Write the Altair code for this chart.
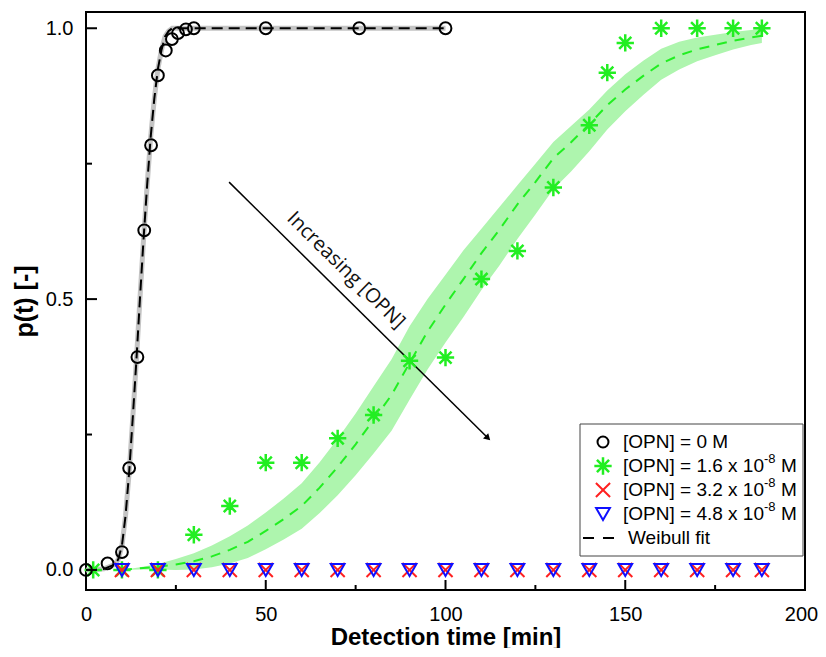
import altair as alt
import pandas as pd

# ---------------- data ----------------
# [OPN] = 0 M (black open circles)
black_t = [0, 6, 10, 12, 14.3, 16.2, 18.1, 20, 22.2, 23.9, 25.6, 27.8, 30, 50, 76, 100]
black_p = [0, 0.012, 0.033, 0.188, 0.393, 0.627, 0.784, 0.913, 0.959, 0.98, 0.991, 0.998, 1.0, 1.0, 1.0, 1.0]

# [OPN] = 1.6e-8 M (green asterisks)
green_t = [2, 10, 20, 30, 40, 50, 60, 70, 80, 90, 100, 110, 120, 130, 140, 145, 150, 160, 170, 180, 188]
green_p = [0, 0, 0, 0.065, 0.118, 0.198, 0.198, 0.243, 0.286, 0.386, 0.392, 0.537, 0.589, 0.706, 0.821,
           0.918, 0.973, 1.0, 1.0, 1.0, 1.0]

# [OPN] = 3.2e-8 M (red x) and 4.8e-8 M (blue triangles)
red_t = [10, 20, 30, 40, 50, 60, 70, 80, 90, 100, 110, 120, 130, 140, 150, 160, 170, 180, 188]
red_p = [0] * 19
blue_t = [10, 20, 30, 40, 50, 60, 70, 80, 90, 100, 110, 120, 130, 140, 150, 160, 170, 180, 188]
blue_p = [0] * 19

# Weibull fit, [OPN] = 0 M
bfit_t = [0, 5, 8, 9, 10, 11, 12, 13, 14, 15, 16, 17, 18, 19, 20, 21, 22, 23, 24, 26, 30, 50, 75, 100]
bfit_p = [0, 0.002, 0.01, 0.02, 0.045, 0.1, 0.18, 0.28, 0.385, 0.5, 0.61, 0.71, 0.8, 0.87, 0.925,
          0.96, 0.985, 0.995, 1.0, 1.0, 1.0, 1.0, 1.0, 1.0]

# Weibull fit, [OPN] = 1.6e-8 M, with its confidence band
gfit_t = [10, 15, 20, 25, 30, 35, 40, 45, 50, 55, 60, 65, 70, 75, 80, 85, 90, 95, 100, 105, 110,
          115, 120, 125, 130, 135, 140, 145, 150, 155, 160, 165, 170, 175, 180, 185, 188]
gfit_p = [0, 0.003, 0.006, 0.01, 0.016, 0.025, 0.037, 0.052, 0.072, 0.094, 0.118, 0.152, 0.19,
          0.232, 0.277, 0.323, 0.382, 0.44, 0.49, 0.537, 0.585, 0.628, 0.675, 0.716, 0.76, 0.79,
          0.823, 0.858, 0.887, 0.912, 0.935, 0.95, 0.961, 0.969, 0.977, 0.983, 0.986]
band_lo = [0, 0.001, 0.001, 0.0, 0.001, 0.005, 0.012, 0.022, 0.038, 0.056, 0.076, 0.105, 0.138,
           0.175, 0.215, 0.257, 0.314, 0.37, 0.42, 0.467, 0.517, 0.562, 0.611, 0.656, 0.703, 0.736,
           0.773, 0.813, 0.847, 0.877, 0.905, 0.924, 0.939, 0.95, 0.961, 0.969, 0.973]
band_hi = [0, 0.005, 0.011, 0.02, 0.031, 0.045, 0.062, 0.082, 0.106, 0.132, 0.16, 0.199, 0.242,
           0.289, 0.339, 0.389, 0.45, 0.5, 0.545, 0.59, 0.63, 0.67, 0.71, 0.75, 0.79, 0.82, 0.85,
           0.885, 0.915, 0.94, 0.962, 0.975, 0.983, 0.988, 0.993, 0.997, 0.999]

# annotation arrow and label
arrow_t = [39.8, 111.8]
arrow_p = [0.716, 0.2435]
arrow_label = "Increasing [OPN]"
label_t = [72.3]
label_p = [0.553]

# tick values
x_major = [0, 50, 100, 150, 200]
x_minor = [25, 75, 125, 175]
y_major = [0.0, 0.5, 1.0]
y_minor = [0.25, 0.75]

legend_main = ["[OPN] = 0 M", "[OPN] = 1.6 x 10", "[OPN] = 3.2 x 10", "[OPN] = 4.8 x 10", "Weibull fit"]
legend_sup = ["", "-8", "-8", "-8", ""]
legend_tail = ["", "M", "M", "M", ""]

# ---------------- chart ----------------
W, H = 719, 578
FONT = "Liberation Sans"
xs = alt.Scale(domain=[0, 200], nice=False, zero=False)
ys = alt.Scale(domain=[-0.037, 1.03], nice=False, zero=False)

X = lambda f: alt.X(f, type="quantitative", scale=xs,
                    axis=alt.Axis(values=x_major, ticks=False, tickSize=0, domain=False, grid=False,
                                  labelFlush=False, labelOverlap=False,
                                  labelOffset={"condition": {"test": "datum.value == 200", "value": -4},
                                               "value": 0},
                                  labelFontSize=20, labelPadding=14, labelFont=FONT, labelColor="black",
                                  title="Detection time [min]", titleFontSize=24, titleFont=FONT,
                                  titleFontWeight="bold", titlePadding=1, titleColor="black"))
Y = lambda f: alt.Y(f, type="quantitative", scale=ys,
                    axis=alt.Axis(values=y_major, format=".1f", ticks=False, tickSize=0, domain=False,
                                  grid=False, labelFlush=False, labelOverlap=False,
                                  labelFontSize=20, labelPadding=13, labelFont=FONT,
                                  labelColor="black", title="p(t) [-]", titleFontSize=25, titleFont=FONT,
                                  titleFontWeight="bold", titlePadding=8, titleColor="black"))

df_black = pd.DataFrame({"t": black_t, "p": black_p})
df_green = pd.DataFrame({"t": green_t, "p": green_p})
df_red = pd.DataFrame({"t": red_t, "p": red_p})
df_blue = pd.DataFrame({"t": blue_t, "p": blue_p})
df_bfit = pd.DataFrame({"t": bfit_t, "p": bfit_p})
df_gfit = pd.DataFrame({"t": gfit_t, "p": gfit_p, "lo": band_lo, "hi": band_hi})
df_arrow = pd.DataFrame({"t": arrow_t, "p": arrow_p})
df_label = pd.DataFrame({"t": label_t, "p": label_p, "s": [arrow_label]})

GREEN = "#22ee22"
STAR = "M-1,0L1,0M0,-1L0,1M-0.7,-0.7L0.7,0.7M-0.7,0.7L0.7,-0.7"
XSHAPE = "M-1,-1L1,1M-1,1L1,-1"

band = alt.Chart(df_gfit).mark_area(color="#aef5ae", opacity=1).encode(
    x=X("t"), y=Y("lo"), y2="hi")
bband = alt.Chart(df_bfit).mark_line(color="#c4c4c4", strokeWidth=5).encode(x=X("t"), y=Y("p"))
gline = alt.Chart(df_gfit).mark_line(color=GREEN, strokeWidth=2, strokeDash=[10, 8]).encode(
    x=X("t"), y=Y("p"))
bline = alt.Chart(df_bfit).mark_line(color="black", strokeWidth=2, strokeDash=[11, 6]).encode(
    x=X("t"), y=Y("p"))

arrow_line = alt.Chart(df_arrow).mark_line(color="black", strokeWidth=1.5).encode(x=X("t"), y=Y("p"))
arrow_head = alt.Chart(df_arrow.tail(1)).mark_point(
    shape="triangle-up", filled=True, color="black", size=55, angle=134.7, opacity=1).encode(
    x=X("t"), y=Y("p"))
label = alt.Chart(df_label).mark_text(
    font="Open Sans", fontSize=20, angle=44.7, align="center", baseline="middle", color="#111").encode(
    x=X("t"), y=Y("p"), text="s:N")

pts_green = alt.Chart(df_green).mark_point(
    shape=STAR, color=GREEN, strokeWidth=2.5, size=300, opacity=1).encode(x=X("t"), y=Y("p"))
pts_black = alt.Chart(df_black).mark_point(
    shape="circle", color="black", strokeWidth=2, size=140, opacity=1, filled=False).encode(
    x=X("t"), y=Y("p"))
pts_red = alt.Chart(df_red).mark_point(
    shape=XSHAPE, color="#ff2020", strokeWidth=2, size=200, opacity=1).encode(x=X("t"), y=Y("p"))
pts_blue = alt.Chart(df_blue).mark_point(
    shape="triangle-down", color="#1010ff", strokeWidth=2, size=190, opacity=1, filled=False).encode(
    x=X("t"), y=Y("p"))

# inward ticks
xt_major = alt.Chart(pd.DataFrame({"t": x_major})).mark_rule(color="black", strokeWidth=2).encode(
    x=X("t"), y=alt.value(H), y2=alt.value(H - 10))
xt_minor = alt.Chart(pd.DataFrame({"t": x_minor})).mark_rule(color="black", strokeWidth=2).encode(
    x=X("t"), y=alt.value(H), y2=alt.value(H - 5))
yt_major = alt.Chart(pd.DataFrame({"p": y_major})).mark_rule(color="black", strokeWidth=2).encode(
    y=Y("p"), x=alt.value(0), x2=alt.value(11))
yt_minor = alt.Chart(pd.DataFrame({"p": y_minor})).mark_rule(color="black", strokeWidth=2).encode(
    y=Y("p"), x=alt.value(0), x2=alt.value(6))

# legend (drawn by hand)
LX0, LX1, LY0, LY1 = 494, 717, 412, 544
rows = [430, 454, 478, 502, 526]
one = pd.DataFrame({"k": [0]})
leg = [alt.Chart(one).mark_rect(fill="white", stroke="#444", strokeWidth=1).encode(
    x=alt.value(LX0), x2=alt.value(LX1), y=alt.value(LY0), y2=alt.value(LY1))]
sym_x = 517
leg.append(alt.Chart(one).mark_point(shape="circle", color="black", strokeWidth=2, size=120,
                                     opacity=1).encode(x=alt.value(sym_x), y=alt.value(rows[0])))
leg.append(alt.Chart(one).mark_point(shape=STAR, color=GREEN, strokeWidth=2.5, size=300,
                                     opacity=1).encode(x=alt.value(sym_x), y=alt.value(rows[1])))
leg.append(alt.Chart(one).mark_point(shape=XSHAPE, color="#ff2020", strokeWidth=2, size=200,
                                     opacity=1).encode(x=alt.value(sym_x), y=alt.value(rows[2])))
leg.append(alt.Chart(one).mark_point(shape="triangle-down", color="#1010ff", strokeWidth=2, size=190,
                                     opacity=1).encode(x=alt.value(sym_x), y=alt.value(rows[3])))
leg.append(alt.Chart(one).mark_rule(color="black", strokeWidth=2, strokeDash=[11, 9]).encode(
    x=alt.value(497), x2=alt.value(530), y=alt.value(rows[4])))
FS = 19
for i in range(5):
    tx = 537 if i < 4 else 542
    leg.append(alt.Chart(pd.DataFrame({"s": [legend_main[i]]})).mark_text(
        font=FONT, fontSize=FS, align="left", baseline="middle", color="black").encode(
        x=alt.value(tx), y=alt.value(rows[i]), text="s:N"))
    if legend_sup[i]:
        leg.append(alt.Chart(pd.DataFrame({"s": [legend_sup[i]]})).mark_text(
            font=FONT, fontSize=13, align="left", baseline="middle", color="black").encode(
            x=alt.value(tx + 141), y=alt.value(rows[i] - 7), text="s:N"))
        leg.append(alt.Chart(pd.DataFrame({"s": [legend_tail[i]]})).mark_text(
            font=FONT, fontSize=FS, align="left", baseline="middle", color="black").encode(
            x=alt.value(tx + 158), y=alt.value(rows[i]), text="s:N"))

chart = alt.layer(
    band, bband, gline, bline, arrow_line, arrow_head, label,
    pts_green, pts_black, pts_red, pts_blue,
    xt_major, xt_minor, yt_major, yt_minor, *leg
).properties(
    width=W, height=H,
    autosize=alt.AutoSizeParams(type="none"),
    padding={"left": 78, "top": 4, "right": 13, "bottom": 58},
    background="white",
).configure_view(stroke="black", strokeWidth=2)

chart.save("out.html", embed_options={"renderer": "svg", "actions": False})
